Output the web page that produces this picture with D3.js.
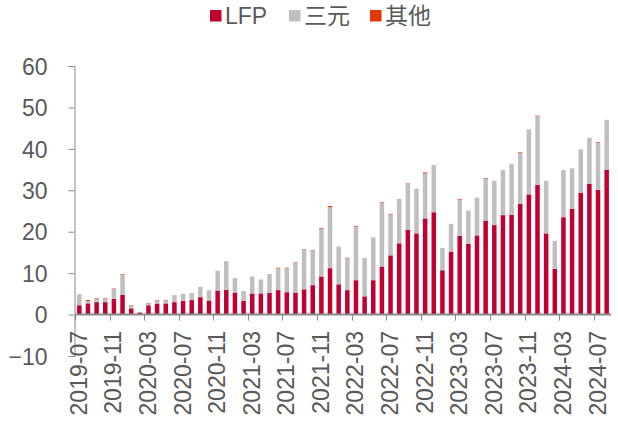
<!DOCTYPE html>
<html>
<head>
<meta charset="utf-8">
<script src="https://cdn.jsdelivr.net/npm/d3@7"></script>
<style>
  html, body { margin: 0; padding: 0; background: #fff; }
  svg text { font-family: "Liberation Sans", Arial, "Noto Sans CJK SC", sans-serif; fill: #595959; }
</style>
</head>
<body>
<svg id="chart" width="618" height="423"></svg>
<script>
// months 2019-07 .. 2024-08
const months = [
  '2019-07','2019-08','2019-09','2019-10','2019-11','2019-12',
  '2020-01','2020-02','2020-03','2020-04','2020-05','2020-06','2020-07','2020-08','2020-09','2020-10','2020-11','2020-12',
  '2021-01','2021-02','2021-03','2021-04','2021-05','2021-06','2021-07','2021-08','2021-09','2021-10','2021-11','2021-12',
  '2022-01','2022-02','2022-03','2022-04','2022-05','2022-06','2022-07','2022-08','2022-09','2022-10','2022-11','2022-12',
  '2023-01','2023-02','2023-03','2023-04','2023-05','2023-06','2023-07','2023-08','2023-09','2023-10','2023-11','2023-12',
  '2024-01','2024-02','2024-03','2024-04','2024-05','2024-06','2024-07','2024-08'
];

const lfp = [
  2.25, 2.7, 3.0, 3.0, 3.8, 4.8,
  1.5, 0.5, 2.25, 2.65, 2.7, 3.0, 3.3, 3.5, 4.2, 3.4, 5.8, 6.0,
  5.3, 3.3, 5.1, 5.1, 5.2, 5.9, 5.4, 5.3, 6.1, 7.1, 9.2, 11.2,
  7.3, 5.9, 8.3, 4.4, 8.3, 11.6, 14.3, 17.2, 20.5, 19.6, 23.2, 24.7,
  10.7, 15.2, 19.0, 17.1, 19.1, 22.7, 21.6, 24.0, 24.1, 26.7, 29.0, 31.3,
  19.6, 11.0, 23.5, 25.5, 29.4, 31.6, 30.1, 34.9
];

const ternary = [
  2.45, 0.55, 0.75, 0.75, 2.4, 4.75,
  0.7, 0.1, 0.45, 0.75, 0.7, 1.7, 1.7, 1.7, 2.5, 2.5, 4.8, 6.9,
  3.5, 2.4, 4.1, 3.4, 4.6, 5.25, 5.75, 7.3, 9.6, 8.4, 11.55, 14.75,
  9.1, 7.65, 12.95, 9.0, 10.3, 15.45, 9.85, 10.5, 11.1, 10.8, 10.85, 11.4,
  5.4, 6.7, 8.75, 8.0, 9.1, 10.05, 10.7, 10.9, 12.3, 12.35, 15.7, 16.55,
  12.7, 6.8, 11.4, 9.8, 10.5, 11.1, 11.35, 12.1
];

const other = [
  0.1, 0.25, 0.15, 0.15, 0.1, 0.15,
  0.1, 0, 0.1, 0.1, 0.1, 0, 0, 0, 0, 0, 0, 0,
  0, 0, 0, 0, 0, 0.15, 0.15, 0.1, 0.1, 0.1, 0.15, 0.25,
  0, 0.15, 0.15, 0.1, 0, 0.15, 0.15, 0.1, 0.1, 0, 0.25, 0,
  0, 0, 0.15, 0, 0, 0.15, 0, 0, 0, 0.15, 0, 0.15,
  0, 0, 0, 0, 0, 0, 0.15, 0
];

const seriesNames = ['LFP', '三元', '其他'];
const seriesColors = ['#C00030', '#BFBFBF', '#DE3A00'];
const yTicks = [-10, 0, 10, 20, 30, 40, 50, 60];

const rows = months.map((m, i) => ({ month: m, LFP: lfp[i], '三元': ternary[i], '其他': other[i] }));

const svg = d3.select('#chart');

const x = d3.scaleBand()
  .domain(months)
  .range([75, 611])
  .paddingInner(0)
  .paddingOuter(0);

const y = d3.scaleLinear()
  .domain([-10, 60])
  .range([356, 66]);

const barW = 4.5;

const stacked = d3.stack().keys(seriesNames)(rows);

// bars
svg.append('g')
  .selectAll('g')
  .data(stacked)
  .join('g')
  .attr('fill', (d, i) => seriesColors[i])
  .selectAll('rect')
  .data(d => d)
  .join('rect')
  .attr('x', d => x(d.data.month) + x.bandwidth() / 2 - barW / 2)
  .attr('y', d => y(d[1]))
  .attr('width', barW)
  .attr('height', d => Math.max(0, y(d[0]) - y(d[1])));

// y axis
const yAxis = svg.append('g')
  .attr('transform', 'translate(74.5,0)')
  .call(d3.axisLeft(y).tickValues(yTicks).tickSize(6).tickPadding(21).tickFormat(d3.format('d')));
yAxis.select('.domain').attr('stroke', '#898989');
yAxis.selectAll('.tick line').attr('stroke', '#898989');
yAxis.selectAll('.tick text')
  .style('font-size', '23px')
  .attr('dy', '0.36em')
  .attr('fill', '#595959');

// x axis line at zero
svg.append('line')
  .attr('x1', 75).attr('x2', 611)
  .attr('y1', y(0)).attr('y2', y(0))
  .attr('stroke', '#898989')
  .attr('stroke-width', 2);

// x tick marks at category boundaries, every 4 months
const labelIdx = months.map((m, i) => i).filter(i => i % 4 === 0);
svg.append('g')
  .selectAll('line')
  .data(labelIdx)
  .join('line')
  .attr('x1', i => Math.round(x(months[i])) + 0.5)
  .attr('x2', i => Math.round(x(months[i])) + 0.5)
  .attr('y1', y(0))
  .attr('y2', y(0) + 6)
  .attr('stroke', '#898989');

// x labels
svg.append('g')
  .selectAll('text')
  .data(labelIdx)
  .join('text')
  .attr('transform', i => `translate(${x(months[i]) + x.bandwidth() / 2 + 7.5},331) rotate(-90)`)
  .attr('text-anchor', 'end')
  .style('font-size', '23px')
  .text(i => months[i]);

// legend
const legendX = [210, 289, 370];
const legend = svg.append('g');
seriesNames.forEach((name, i) => {
  legend.append('rect')
    .attr('x', legendX[i])
    .attr('y', 10)
    .attr('width', 11.5)
    .attr('height', 11.5)
    .attr('fill', seriesColors[i]);
  legend.append('text')
    .attr('x', legendX[i] + 15)
    .attr('y', 24)
    .style('font-size', '23px')
    .text(name);
});
</script>
</body>
</html>
